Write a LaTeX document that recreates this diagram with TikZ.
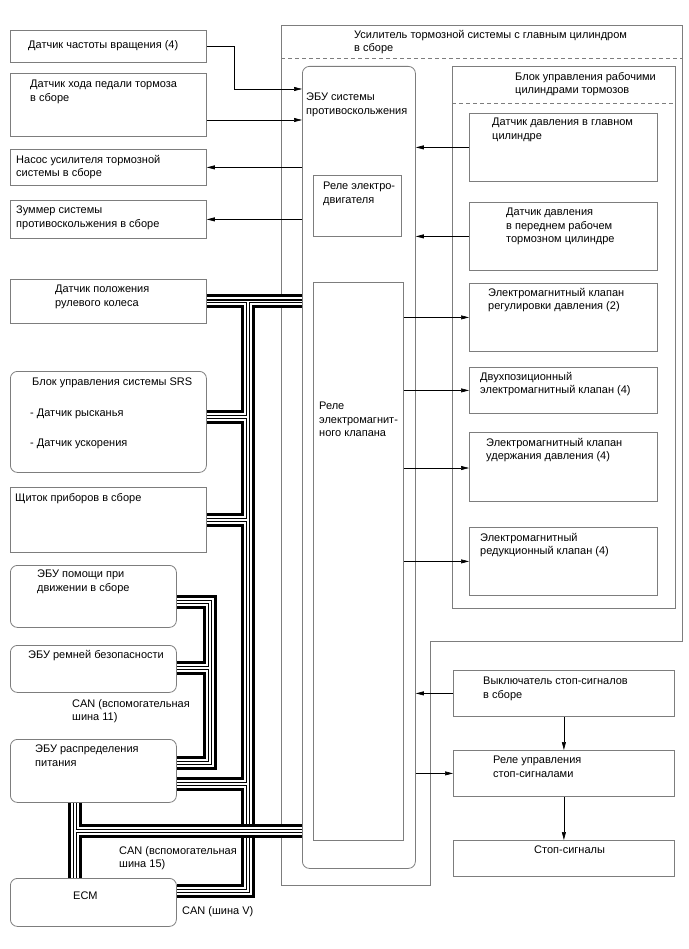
\documentclass[tikz,border=0pt]{standalone}
\usepackage{fontspec}
\setmainfont{Liberation Sans}
\definecolor{boxgray}{RGB}{125,125,125}
\usetikzlibrary{arrows.meta,positioning,calc}

\begin{document}
\begin{tikzpicture}[x=1pt, y=-1pt,
    box/.style={draw=boxgray, line width=0.8pt, anchor=north west, inner sep=0pt},
    rbox/.style={box, rounded corners=7pt},
    txt/.style={anchor=north west, inner sep=0pt, align=left,
                font=\fontsize{11}{13.6}\selectfont},
    arr/.style={-{Triangle[length=8pt,width=4pt]}, line width=0.6pt, black},
    canbus/.style={line width=14pt, black,
                   postaction={draw=white, line width=8pt},
                   postaction={draw=black, line width=4pt},
                   postaction={draw=white, line width=1.6pt}}
  ]
  \useasboundingbox (0,0) rectangle (688,949);

  % Left column
  \node[box, minimum width=196pt, minimum height=32pt] (vss) at (10,30) {};
  \node[txt] (vssT) at (28,40) {Датчик частоты вращения (4)};
  \node[box, minimum width=196pt, minimum height=63pt] (pedal) at (10,73) {};
  \node[txt] (pedalT) at (30,80) {Датчик хода педали тормоза\\в сборе};
  \node[box, minimum width=196pt, minimum height=36pt] (pump) at (10,149) {};
  \node[txt] (pumpT) at (16,155) {Насос усилителя тормозной\\системы в сборе};
  \node[box, minimum width=196pt, minimum height=38pt] (buzz) at (10,200) {};
  \node[txt] (buzzT) at (16,206) {Зуммер системы\\противоскольжения в сборе};
  \node[box, minimum width=196pt, minimum height=44pt] (steer) at (10,279) {};
  \node[txt] (steerT) at (55,285) {Датчик положения\\рулевого колеса};
  \node[rbox, minimum width=196pt, minimum height=101pt] (srs) at (10,371) {};
  \node[txt] (srsT) at (32,378) {Блок управления системы SRS};
  \node[txt] (yawT) at (30,409) {- Датчик рысканья};
  \node[txt] (accT) at (30,439) {- Датчик ускорения};
  \node[box, minimum width=196pt, minimum height=65pt] (meter) at (10,487) {};
  \node[txt] (meterT) at (15,493) {Щиток приборов в сборе};
  \node[rbox, minimum width=166pt, minimum height=62pt] (drv) at (10,565) {};
  \node[txt] (drvT) at (37,570) {ЭБУ помощи при\\движении в сборе};
  \node[rbox, minimum width=166pt, minimum height=47pt] (belt) at (10,645) {};
  \node[txt] (beltT) at (28,650) {ЭБУ ремней безопасности};
  \node[txt] (can11) at (72,699) {CAN (вспомогательная\\шина 11)};
  \node[rbox, minimum width=166pt, minimum height=63pt] (pdu) at (10,739) {};
  \node[txt] (pduT) at (35,745) {ЭБУ распределения\\питания};
  \node[txt] (can15) at (119,846) {CAN (вспомогательная\\шина 15)};
  \node[rbox, minimum width=166pt, minimum height=48pt] (ecm) at (10,878) {};
  \node[txt] (ecmT) at (73,892) {ECM};
  \node[txt] (canV) at (182,906) {CAN (шина V)};

  % Booster housing
  \draw[boxgray, line width=0.8pt] (281,25) -- (682,25) -- (682,641) -- (430,641)
    -- (430,885) -- (281,885) -- cycle;
  \draw[boxgray, line width=0.8pt, dash pattern=on 4pt off 3pt] (281,58) -- (682,58);
  \node[txt] (boostT) at (354,30) {Усилитель тормозной системы с главным цилиндром\\в сборе};
  \node[rbox, minimum width=113pt, minimum height=802pt] (ecu) at (302,66) {};
  \node[txt] (ecuT) at (306,93) {ЭБУ системы\\противоскольжения};
  \node[box, minimum width=88pt, minimum height=61pt] (motrel) at (313,175) {};
  \node[txt] (motrelT) at (323,182) {Реле электро-\\двигателя};
  \node[box, minimum width=90pt, minimum height=558pt] (solrel) at (313,282) {};
  \node[txt] (solrelT) at (319,402) {Реле\\электромагнит-\\ного клапана};

  % Actuator block
  \node[box, minimum width=223pt, minimum height=542pt] (act) at (452,66) {};
  \draw[boxgray, line width=0.8pt, dash pattern=on 4pt off 3pt] (452,103) -- (675,103);
  \node[txt] (actT) at (515,72) {Блок управления рабочими\\цилиндрами тормозов};
  \node[box, minimum width=188pt, minimum height=68pt] (mcs) at (469,113) {};
  \node[txt] (mcsT) at (492,118) {Датчик давления в главном\\цилиндре};
  \node[box, minimum width=188pt, minimum height=68pt] (wcs) at (469,202) {};
  \node[txt] (wcsT) at (506,208) {Датчик давления\\в переднем рабочем\\тормозном цилиндре};
  \node[box, minimum width=188pt, minimum height=68pt] (regv) at (469,283) {};
  \node[txt] (regvT) at (488,288) {Электромагнитный клапан\\регулировки давления (2)};
  \node[box, minimum width=188pt, minimum height=46pt] (twov) at (469,367) {};
  \node[txt] (twovT) at (480,372) {Двухпозиционный\\электромагнитный клапан (4)};
  \node[box, minimum width=188pt, minimum height=69pt] (holdv) at (469,432) {};
  \node[txt] (holdvT) at (486,438) {Электромагнитный клапан\\удержания давления (4)};
  \node[box, minimum width=188pt, minimum height=68pt] (redv) at (469,527) {};
  \node[txt] (redvT) at (480,533) {Электромагнитный\\редукционный клапан (4)};

  % Stop lamp circuit
  \node[box, minimum width=221pt, minimum height=46pt] (sw) at (453,670) {};
  \node[txt] (swT) at (483,677) {Выключатель стоп-сигналов\\в сборе};
  \node[box, minimum width=221pt, minimum height=46pt] (slr) at (453,750) {};
  \node[txt] (slrT) at (493,756) {Реле управления\\стоп-сигналами};
  \node[box, minimum width=221pt, minimum height=36pt] (lamp) at (453,840) {};
  \node[txt] (lampT) at (534,846) {Стоп-сигналы};

  % Signal lines
  \draw[arr] (vss.east) -- ++(27,0) |- (ecu.west |- 0,89);
  \draw[arr] (pedal.east |- 0,120) -- (ecu.west |- 0,120);
  \draw[arr] (ecu.west |- pump.east) -- (pump.east);
  \draw[arr] (ecu.west |- buzz.east) -- (buzz.east);
  \draw[arr] (mcs.west) -- (ecu.east |- mcs.west);
  \draw[arr] (wcs.west) -- (ecu.east |- wcs.west);
  \draw[arr] (solrel.east |- regv.west) -- (regv.west);
  \draw[arr] (solrel.east |- twov.west) -- (twov.west);
  \draw[arr] (solrel.east |- 0,468) -- (holdv.west |- 0,468);
  \draw[arr] (solrel.east |- redv.west) -- (redv.west);
  \draw[arr] (sw.west) -- (ecu.east |- sw.west);
  \draw[arr] (ecu.east |- slr.west) -- (slr.west);
  \draw[arr] (sw.south) -- (slr.north);
  \draw[arr] (slr.south) -- (lamp.north);

  % CAN lines
  \coordinate (vTop) at (248,301);
  \coordinate (vBot) at (248,891);
  \draw[canbus] (steer.east) -- (ecu.west |- steer.east)
    (vTop) -- (vBot) -- (ecm.east |- vBot)
    (srs.east |- 0,417) -- (248,417)
    (meter.east) -- (meter.east -| vTop)
    (pdu.east |- 0,784) -- (248,784);
  \coordinate (b11Top) at (210,602);
  \coordinate (b11Bot) at (210,763);
  \draw[canbus] (drv.east |- b11Top) -- (b11Top) -- (b11Bot) -- (pdu.east |- b11Bot)
    (belt.east |- 0,668) -- (210,668);
  \coordinate (b15) at (75,831);
  \draw[canbus] (75,0 |- pdu.south) -- (75,0 |- ecm.north)
    (b15) -- (ecu.west |- b15);
\end{tikzpicture}
\end{document}
